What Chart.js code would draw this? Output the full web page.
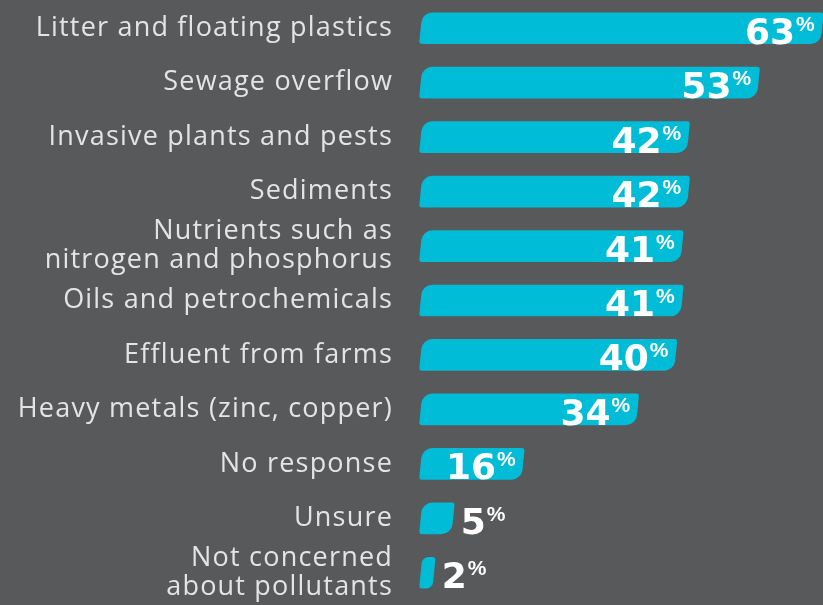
<!DOCTYPE html>
<html>
<head>
<meta charset="utf-8">
<script src="https://cdn.jsdelivr.net/npm/chart.js@4.4.0/dist/chart.umd.min.js"></script>
<style>
  html, body { margin: 0; padding: 0; background: #58595b; }
  #wrap { width: 823px; height: 605px; position: relative; }
</style>
</head>
<body>
<div id="wrap"><canvas id="pollutants"></canvas></div>
<script>
// data
const categories = [
  'Litter and floating plastics',
  'Sewage overflow',
  'Invasive plants and pests',
  'Sediments',
  ['Nutrients such as', 'nitrogen and phosphorus'],
  'Oils and petrochemicals',
  'Effluent from farms',
  'Heavy metals (zinc, copper)',
  'No response',
  'Unsure',
  ['Not concerned', 'about pollutants']
];
const percents = [63, 53, 42, 42, 41, 41, 40, 34, 16, 5, 2];

const barColor = '#00bcd6';
const skew = 0.1;

// draws each bar slanted like italic text
const slantBars = {
  id: 'slantBars',
  beforeDraw(chart) {
    chart.ctx.letterSpacing = '1.2px';
  },
  beforeDatasetDraw(chart, args) {
    const ctx = chart.ctx;
    const area = chart.chartArea;
    args.meta.data.forEach(el => {
      ctx.save();
      ctx.translate(skew * el.y, 0);
      ctx.transform(1, 0, -skew, 1, 0, 0);
      el.draw(ctx, area);
      ctx.restore();
    });
    return false;
  }
};

const numFont = 'bold 36px "DejaVu Sans"';
const pctFont = 'bold 21px "Liberation Sans"';

const valueLabels = {
  id: 'valueLabels',
  afterDatasetsDraw(chart) {
    const ctx = chart.ctx;
    const meta = chart.getDatasetMeta(0);
    ctx.save();
    ctx.letterSpacing = '0px';
    ctx.fillStyle = '#ffffff';
    ctx.textAlign = 'left';
    ctx.textBaseline = 'alphabetic';
    meta.data.forEach((el, i) => {
      const v = percents[i];
      const num = String(v);
      ctx.font = numFont;
      const nw = ctx.measureText(num).width;
      ctx.font = pctFont;
      const pw = ctx.measureText('%').width;
      let left;
      if (v >= 10) left = el.x - 7 - pw - 1 - nw;
      else left = el.x + 8;
      ctx.font = numFont;
      ctx.fillText(num, left, el.y + 15.5);
      ctx.font = pctFont;
      ctx.fillText('%', left + nw + 1, el.y + 2.5);
    });
    ctx.restore();
  }
};

new Chart(document.getElementById('pollutants'), {
  type: 'bar',
  data: {
    labels: categories,
    datasets: [{
      data: percents,
      backgroundColor: barColor,
      borderWidth: 0,
      borderRadius: { topLeft: 10, topRight: 3, bottomLeft: 3, bottomRight: 10 },
      borderSkipped: false,
      barThickness: 31
    }]
  },
  options: {
    indexAxis: 'y',
    responsive: true,
    maintainAspectRatio: false,
    animation: false,
    layout: { padding: { top: 1, bottom: 5, left: 0, right: 0 } },
    plugins: {
      legend: { display: false },
      tooltip: { enabled: false }
    },
    scales: {
      x: {
        display: false,
        min: 0,
        max: 63.2
      },
      y: {
        afterFit(scale) {
          scale.width = 421;
          scale.paddingTop = 0;
          scale.paddingBottom = 0;
        },
        border: { display: false },
        grid: { display: false, drawTicks: false },
        ticks: {
          autoSkip: false,
          padding: 28,
          color: '#e4e4e4',
          font: { family: 'Open Sans', size: 27, lineHeight: 1.08 }
        }
      }
    }
  },
  plugins: [slantBars, valueLabels]
});
</script>
</body>
</html>
